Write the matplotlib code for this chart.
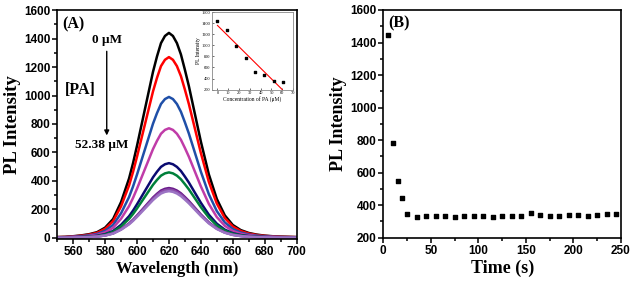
import numpy as np
import matplotlib
matplotlib.use("Agg")
import matplotlib.pyplot as plt
from matplotlib.ticker import MultipleLocator

# --- panel A: PL spectra (normalised band shape, scaled by each peak) ---
wl = [550, 555, 560, 565, 570, 575, 580, 585, 590, 595, 597.5, 600, 602.5, 605, 607.5, 610,
      612.5, 615, 617.5, 620, 622.5, 625, 627.5, 630, 632.5, 635, 637.5, 640, 642.5, 645,
      650, 655, 660, 665, 670, 675, 680, 685, 690, 695, 700]
shape = [0.004, 0.005, 0.008, 0.012, 0.018, 0.028, 0.05, 0.092, 0.175, 0.29, 0.365, 0.45, 0.54, 0.63, 0.72, 0.81,
         0.885, 0.95, 0.985, 1.0, 0.985, 0.95, 0.895, 0.82, 0.74, 0.65, 0.56, 0.47, 0.39, 0.31,
         0.19, 0.11, 0.063, 0.038, 0.024, 0.016, 0.011, 0.008, 0.006, 0.005, 0.004]
peaks = [1440, 1270, 990, 770, 525, 460, 350, 340, 328]
colors = ['black', '#ff0000', '#1f4fa8', '#c03ca8', '#0a0a70', '#00803a', '#6a1a8a', '#8a4aa8', '#9c74c4']

# inset: intensity vs PA concentration
conc = [0, 8.5, 17, 26, 35, 43.5, 52.4, 61]
conc_int = [1440, 1270, 990, 770, 525, 460, 350, 335]
fit_x = [0, 60]
fit_y = [1360, 200]

# --- panel B: intensity vs time ---
t = [5, 10, 15, 20, 25, 35, 45, 55, 65, 75, 85, 95, 105, 115, 125, 135, 145, 155,
     165, 175, 185, 195, 205, 215, 225, 235, 245]
I = [1446, 780, 549, 443, 346, 328, 333, 335, 335, 329, 331, 333, 331, 329, 335, 335, 331, 350,
     340, 335, 335, 337, 340, 335, 342, 344, 346]

serif = 'Liberation Serif'
sans = 'Liberation Sans'
plt.rcParams['font.family'] = sans
plt.rcParams['font.weight'] = 'bold'

fig = plt.figure(figsize=(6.33, 2.89), dpi=100)
axA = fig.add_axes([0.0905, 0.172, 0.378, 0.793])
axB = fig.add_axes([0.6055, 0.1775, 0.3755, 0.788])

def style(ax):
    for s in ax.spines.values():
        s.set_linewidth(1.2)
    ax.tick_params(which='both', direction='out', top=False, right=False, width=1.1)
    ax.tick_params(which='major', length=3.5, labelsize=8.5, pad=1.5)
    ax.tick_params(which='minor', length=2)
    for lab in ax.get_xticklabels() + ax.get_yticklabels():
        lab.set_fontweight('bold')

sh = np.array(shape)
for p, c in zip(peaks, colors):
    axA.plot(wl, p * sh, color=c, lw=1.8, solid_joinstyle='round')
axA.set_xlim(550, 700)
axA.xaxis.set_major_locator(MultipleLocator(20))
axA.xaxis.set_minor_locator(MultipleLocator(10))
axA.yaxis.set_major_locator(MultipleLocator(200))
axA.yaxis.set_minor_locator(MultipleLocator(100))
axA.set_ylim(-10, 1600)
style(axA)
axA.set_xlabel('Wavelength (nm)', family=serif, fontsize=12, fontweight='bold', labelpad=2)
axA.set_ylabel('PL Intensity', family=serif, fontsize=13.5, fontweight='bold', labelpad=2)
axA.text(553, 1500, '(A)', family=serif, fontsize=11.5, fontweight='bold', va='center')
axA.text(581, 1390, '0 \u03bcM', family=serif, fontsize=9.5, fontweight='bold', ha='center', va='center')
axA.annotate('', xy=(581, 700), xytext=(581, 1330),
             arrowprops=dict(arrowstyle='-|>', color='black', lw=1.0, mutation_scale=7))
axA.text(555, 1040, '[PA]', family=serif, fontsize=11.5, fontweight='bold', va='center')
axA.text(578, 650, '52.38 \u03bcM', family=serif, fontsize=9.5, fontweight='bold', ha='center', va='center')

# inset
axI = fig.add_axes([0.335, 0.69, 0.128, 0.268])
axI.scatter(conc, conc_int, s=4, marker='s', color='black', zorder=3)
axI.plot(fit_x, fit_y, color='#ff0000', lw=0.8)
axI.set_xlim(-5, 70)
axI.set_ylim(200, 1600)
axI.set_xticks(range(0, 71, 10))
axI.set_yticks(range(200, 1601, 200))
for s in axI.spines.values():
    s.set_color('#888888')
    s.set_linewidth(0.6)
axI.tick_params(direction='in', length=1.5, width=0.4, labelsize=3.2, pad=1)
for lab in axI.get_xticklabels() + axI.get_yticklabels():
    lab.set_family(serif)
    lab.set_fontweight('normal')
axI.set_xlabel('Concentration of PA (\u03bcM)', family=serif, fontsize=4, fontweight='normal', labelpad=1)
axI.set_ylabel('PL Intensity', family=serif, fontsize=4, fontweight='normal', labelpad=1)

# panel B
axB.scatter(t, I, s=11, marker='s', color='black', zorder=3)
axB.set_xlim(0, 250)
axB.set_ylim(200, 1600)
axB.xaxis.set_major_locator(MultipleLocator(50))
axB.xaxis.set_minor_locator(MultipleLocator(25))
axB.yaxis.set_major_locator(MultipleLocator(200))
axB.yaxis.set_minor_locator(MultipleLocator(100))
style(axB)
axB.set_xlabel('Time (s)', family=serif, fontsize=13, fontweight='bold', labelpad=2)
axB.set_ylabel('PL Intensity', family=serif, fontsize=13, fontweight='bold', labelpad=2)
axB.text(5, 1520, '(B)', family=serif, fontsize=11.5, fontweight='bold', va='center')

fig.savefig('out.png', dpi=100)
